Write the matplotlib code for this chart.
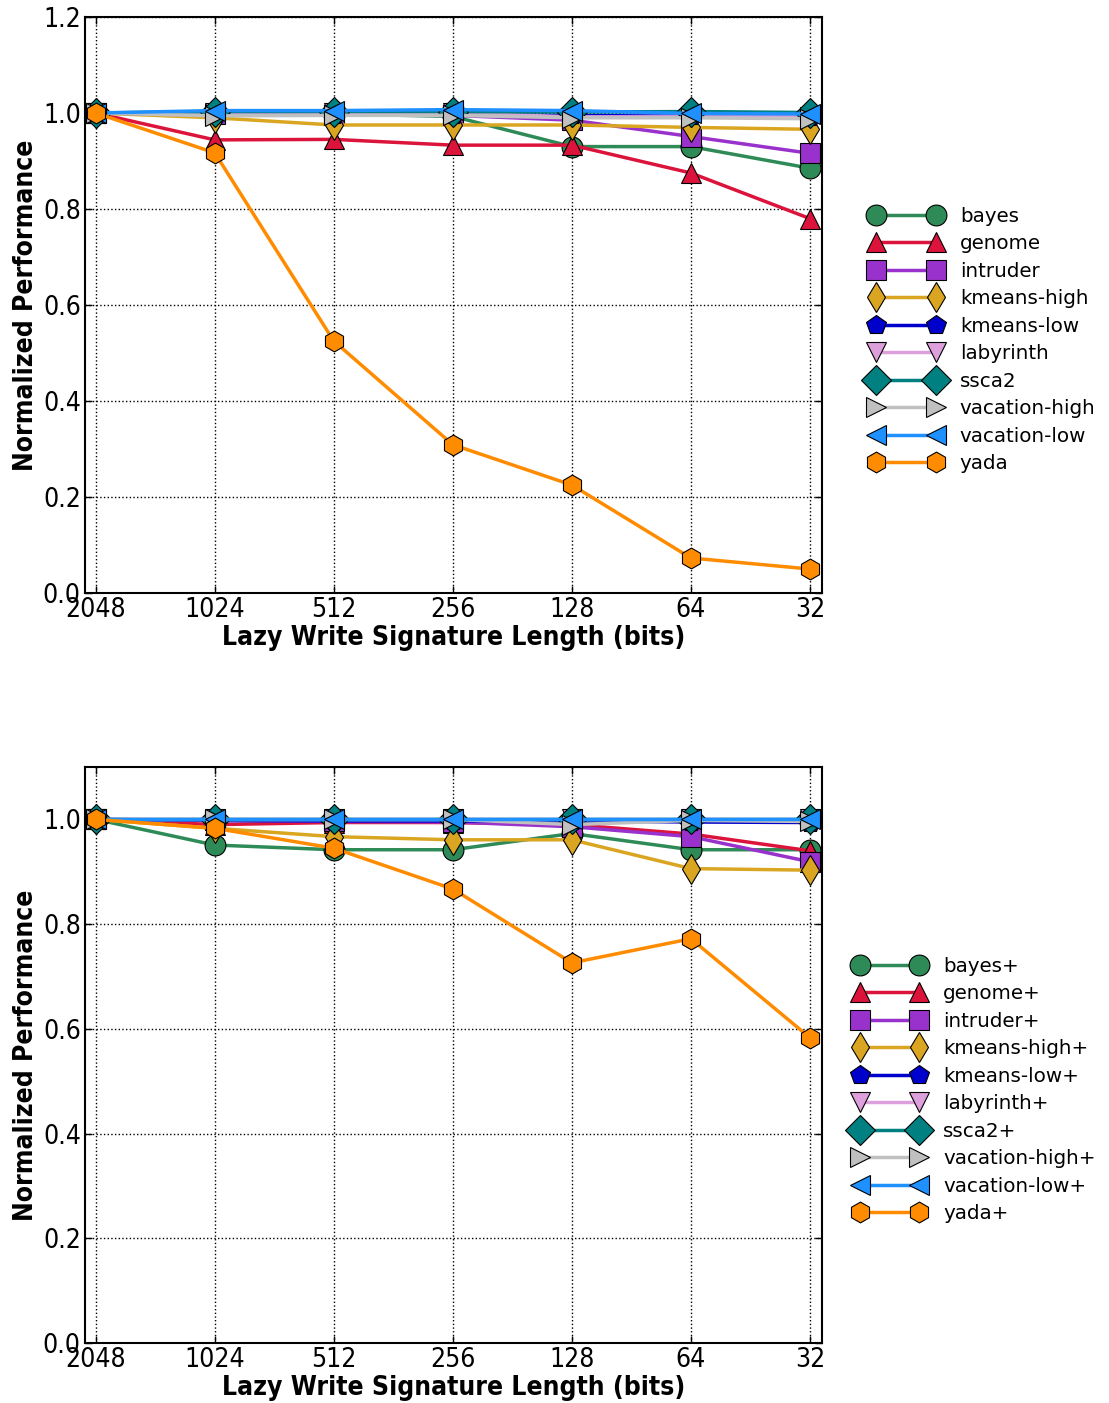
import numpy as np
import matplotlib
matplotlib.use('Agg')
import matplotlib.pyplot as plt

matplotlib.rcParams['font.family'] = 'DejaVu Sans'

sig_labels = ['2048', '1024', '512', '256', '128', '64', '32']

names = ['bayes', 'genome', 'intruder', 'kmeans-high', 'kmeans-low',
         'labyrinth', 'ssca2', 'vacation-high', 'vacation-low', 'yada']
colors = ['#2E8B57', '#DC143C', '#9932CC', '#DAA520', '#0000CD',
          '#DDA0DD', '#008080', '#C0C0C0', '#1E90FF', '#FF8C00']
markers = ['o', '^', 's', 'd', 'p', 'v', 'D', '>', '<', 'h']

# lazy write signature, plain
top_vals = {
    'bayes':         [1.0, 1.0, 0.998, 0.993, 0.930, 0.930, 0.885],
    'genome':        [1.0, 0.944, 0.945, 0.933, 0.933, 0.875, 0.780],
    'intruder':      [1.0, 0.998, 0.996, 0.995, 0.985, 0.951, 0.916],
    'kmeans-high':   [1.0, 0.990, 0.975, 0.975, 0.975, 0.970, 0.966],
    'kmeans-low':    [1.0, 0.997, 0.996, 0.996, 0.995, 0.993, 0.992],
    'labyrinth':     [1.0, 1.000, 1.000, 1.000, 0.992, 0.992, 0.992],
    'ssca2':         [1.0, 1.003, 1.003, 1.003, 1.002, 1.003, 1.001],
    'vacation-high': [1.0, 0.994, 0.995, 0.995, 0.990, 0.990, 0.988],
    'vacation-low':  [1.0, 1.005, 1.005, 1.007, 1.005, 0.999, 0.998],
    'yada':          [1.0, 0.917, 0.525, 0.309, 0.225, 0.073, 0.050],
}

# lazy write signature, "+" variant
bot_vals = {
    'bayes':         [1.0, 0.951, 0.942, 0.942, 0.973, 0.942, 0.942],
    'genome':        [1.0, 0.990, 0.994, 0.994, 0.990, 0.972, 0.940],
    'intruder':      [1.0, 0.998, 0.996, 0.995, 0.986, 0.967, 0.919],
    'kmeans-high':   [1.0, 0.983, 0.967, 0.961, 0.961, 0.906, 0.903],
    'kmeans-low':    [1.0, 0.998, 0.997, 0.997, 0.997, 0.995, 0.994],
    'labyrinth':     [1.0, 1.000, 1.000, 1.000, 1.000, 1.000, 1.000],
    'ssca2':         [1.0, 1.000, 1.000, 1.000, 1.000, 1.000, 1.000],
    'vacation-high': [1.0, 1.000, 1.000, 1.000, 0.990, 0.998, 0.996],
    'vacation-low':  [1.0, 1.000, 1.000, 1.000, 1.000, 1.000, 1.000],
    'yada':          [1.0, 0.983, 0.945, 0.867, 0.726, 0.772, 0.583],
}

fig = plt.figure(figsize=(11.09, 14.03), dpi=100)
ax1 = fig.add_axes([0.0766, 0.5773, 0.6645, 0.4106])
ax2 = fig.add_axes([0.0766, 0.0428, 0.6645, 0.4105])

x = np.arange(len(sig_labels))

def draw(ax, vals, suffix, ymax, yticks, legend_y):
    for n, c, m in zip(names, colors, markers):
        ax.plot(x, vals[n], color=c, marker=m, markersize=15, linewidth=2.5,
                markeredgecolor='black', markeredgewidth=0.8, label=n + suffix)
    ax.set_xlim(-0.09, 6.1)
    ax.set_ylim(0, ymax)
    ax.set_xticks(x)
    ax.set_xticklabels(sig_labels)
    ax.set_yticks(yticks)
    ax.set_yticklabels(['%.1f' % v for v in yticks])
    ax.grid(True, color='black', linestyle=':', linewidth=1)
    ax.tick_params(direction='in', length=5, width=1, top=True, right=True,
                   labelsize=19, pad=3)
    for lab in ax.get_xticklabels() + ax.get_yticklabels():
        lab.set_fontstretch('condensed')
    for s in ax.spines.values():
        s.set_linewidth(1.5)
    ax.set_xlabel('Lazy Write Signature Length (bits)', fontsize=19,
                  fontweight='bold', fontstretch='condensed', labelpad=1)
    ax.set_ylabel('Normalized Performance', fontsize=19, fontweight='bold',
                  fontstretch='condensed', labelpad=3)
    ax.legend(loc='center right', bbox_to_anchor=(0.995, legend_y),
              bbox_transform=fig.transFigure, frameon=False, numpoints=2,
              fontsize=14.3, handlelength=3.6, labelspacing=0.43,
              borderaxespad=0, handletextpad=0.9)

draw(ax1, top_vals, '', 1.2, [0.0, 0.2, 0.4, 0.6, 0.8, 1.0, 1.2], 0.7577)
draw(ax2, bot_vals, '+', 1.1, [0.0, 0.2, 0.4, 0.6, 0.8, 1.0], 0.2231)

fig.savefig('out.png', dpi=100)
